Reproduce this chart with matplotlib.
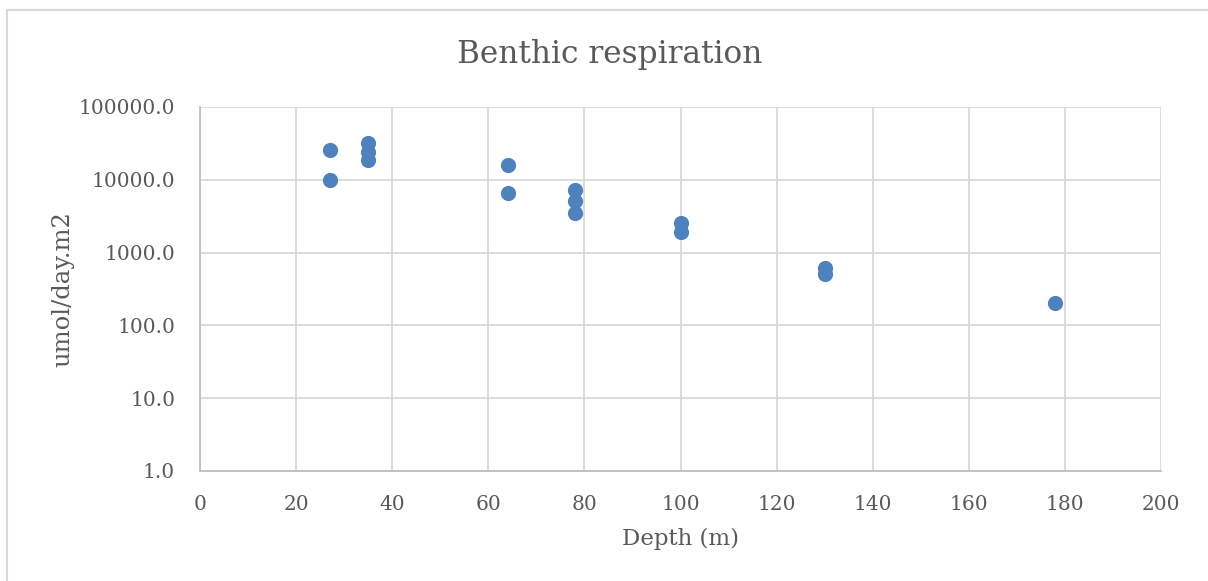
import matplotlib
matplotlib.use("Agg")
import matplotlib.pyplot as plt
from matplotlib.ticker import FixedLocator, FuncFormatter
from matplotlib.patches import Rectangle

# данные
depth = [27, 27, 35, 35, 35, 64, 64, 78, 78, 78, 100, 100, 130, 130, 178]
respiration = [25700, 9950, 31700, 24300, 18700, 16000, 6500,
               7250, 5150, 3450, 2580, 1900, 610, 510, 201]

x_ticks = [0, 20, 40, 60, 80, 100, 120, 140, 160, 180, 200]
y_ticks = [1, 10, 100, 1000, 10000, 100000]

text_col = "#595959"
grid_col = "#d9d9d9"
plt.rcParams["font.family"] = ["DejaVu Serif"]

fig = plt.figure(figsize=(12.08, 5.81), dpi=100)
ax = fig.add_axes([200 / 1208, 110 / 581, 961 / 1208, 364 / 581])

# рамка вокруг всей диаграммы
fig.patches.append(Rectangle((7 / 1208, -0.1), 1.2, (581 - 10) / 581 + 0.1,
                             transform=fig.transFigure, fill=False,
                             edgecolor=grid_col, linewidth=1.5))

ax.scatter(depth, respiration, s=120, color="#4f81bd", zorder=3, linewidths=0)

ax.set_yscale("log")
ax.set_xlim(0, 200)
ax.set_ylim(1, 100000)
ax.xaxis.set_major_locator(FixedLocator(x_ticks))
ax.yaxis.set_major_locator(FixedLocator(y_ticks))
ax.yaxis.set_minor_locator(FixedLocator([]))
ax.yaxis.set_major_formatter(FuncFormatter(lambda v, p: "%.1f" % v))

ax.grid(True, color=grid_col, linewidth=1.3)
ax.set_axisbelow(True)
for side in ["top", "right"]:
    ax.spines[side].set_visible(False)
for side in ["left", "bottom"]:
    ax.spines[side].set_color("#bfbfbf")
    ax.spines[side].set_linewidth(1.3)
ax.tick_params(length=0, labelsize=14.5, colors=text_col, pad=17)
ax.tick_params(axis="y", pad=18)

fig.suptitle("Benthic respiration", fontsize=22.5, color=text_col, x=610 / 1208, y=1 - 54 / 581, va="center")
ax.set_xlabel("Depth (m)", fontsize=16.5, color=text_col, labelpad=10)
ax.set_ylabel("umol/day.m2", fontsize=17.5, color=text_col, labelpad=3)

fig.savefig("out.png", dpi=100)
